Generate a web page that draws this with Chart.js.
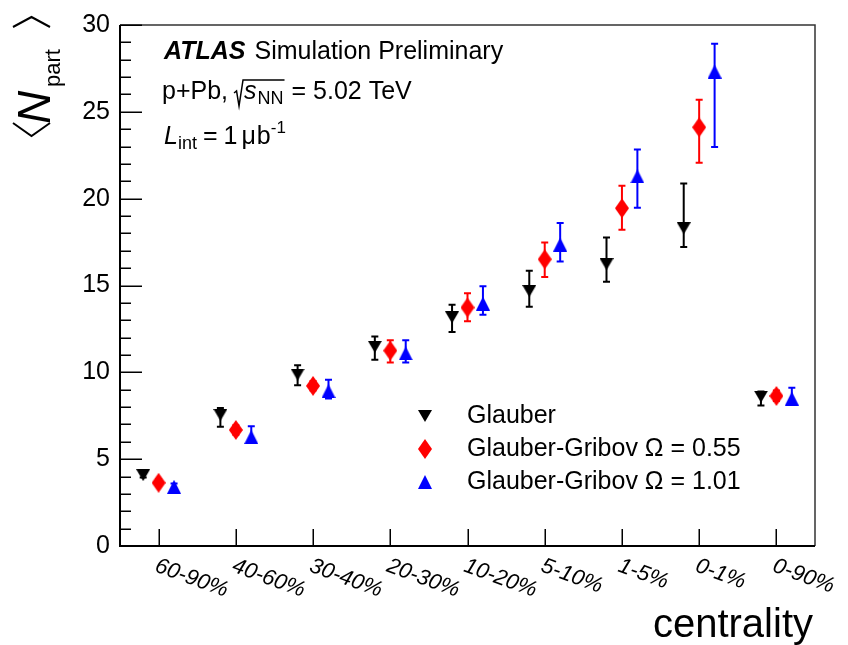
<!DOCTYPE html>
<html>
<head>
<meta charset="utf-8">
<script src="https://cdn.jsdelivr.net/npm/chart.js@4.4.0/dist/chart.umd.min.js"></script>
<style>
  html, body { margin: 0; padding: 0; background: #fff; }
  #chart { display: block; }
</style>
</head>
<body>
<canvas id="chart" width="848" height="645"></canvas>
<script>
// centrality bins on the x axis
const categories = ['60-90%', '40-60%', '30-40%', '20-30%', '10-20%', '5-10%', '1-5%', '0-1%', '0-90%'];

// <Npart> per bin, with lower / upper ends of the uncertainty band
const glauber   = [4.08, 7.55, 9.87, 11.47, 13.17, 14.68, 16.23, 18.30, 8.60];
const glauberLo = [3.95, 6.86, 9.25, 10.72, 12.32, 13.77, 15.21, 17.22, 8.09];
const glauberHi = [4.20, 7.94, 10.41, 12.07, 13.89, 15.85, 17.76, 20.87, 8.90];

const gg055   = [3.64, 6.68, 9.22, 11.25, 13.73, 16.51, 19.45, 24.11, 8.64];
const gg055Lo = [3.45, 6.40, 8.95, 10.57, 12.94, 15.49, 18.21, 22.07, 8.35];
const gg055Hi = [3.85, 6.95, 9.50, 11.85, 14.55, 17.47, 20.75, 25.70, 8.95];

const gg101   = [3.41, 6.28, 8.92, 11.09, 13.96, 17.36, 21.28, 27.32, 8.49];
const gg101Lo = [3.20, 6.00, 8.49, 10.57, 13.32, 16.38, 19.47, 22.98, 8.20];
const gg101Hi = [3.60, 6.90, 9.58, 11.85, 14.96, 18.60, 22.83, 28.92, 9.11];

const yTicks = [0, 5, 10, 15, 20, 25, 30];

const FONT = '"Liberation Sans", Arial, Helvetica, sans-serif';

// ROOT-like markers drawn once into small canvases
function makeMarker(kind, color) {
  const c = document.createElement('canvas');
  let w = 14, h = 14;
  if (kind === 'down') h = 12;
  if (kind === 'diamond') h = 20;
  c.width = w; c.height = h;
  const g = c.getContext('2d');
  g.fillStyle = color;
  g.beginPath();
  if (kind === 'down') { g.moveTo(0, 0); g.lineTo(w, 0); g.lineTo(w / 2, h); }
  else if (kind === 'up') { g.moveTo(w / 2, 0); g.lineTo(w, h); g.lineTo(0, h); }
  else { g.moveTo(w / 2, 0); g.lineTo(w, h / 2); g.lineTo(w / 2, h); g.lineTo(0, h / 2); }
  g.closePath();
  g.fill();
  return c;
}

const series = [
  { label: 'Glauber', vals: glauber, lo: glauberLo, hi: glauberHi, color: '#000000', marker: makeMarker('down', '#000000'), shift: -0.2 },
  { label: 'Glauber-Gribov \u03A9 = 0.55', vals: gg055, lo: gg055Lo, hi: gg055Hi, color: '#ff0000', marker: makeMarker('diamond', '#ff0000'), shift: 0 },
  { label: 'Glauber-Gribov \u03A9 = 1.01', vals: gg101, lo: gg101Lo, hi: gg101Hi, color: '#0000ff', marker: makeMarker('up', '#0000ff'), shift: 0.2 }
];

// vertical error bars with small caps, under the markers
const errorBars = {
  id: 'errorBars',
  beforeDatasetsDraw(chart) {
    const { ctx, scales: { x, y } } = chart;
    ctx.save();
    ctx.lineWidth = 2;
    series.forEach(s => {
      ctx.strokeStyle = s.color;
      s.vals.forEach((v, i) => {
        const px = x.getPixelForValue(i + s.shift);
        const yl = y.getPixelForValue(s.lo[i]);
        const yh = y.getPixelForValue(s.hi[i]);
        ctx.beginPath();
        ctx.moveTo(px, yl); ctx.lineTo(px, yh);
        ctx.moveTo(px - 3.5, yl); ctx.lineTo(px + 3.5, yl);
        ctx.moveTo(px - 3.5, yh); ctx.lineTo(px + 3.5, yh);
        ctx.stroke();
      });
    });
    ctx.restore();
  }
};

// frame, inside ticks, rotated bin labels, titles, legend and ATLAS text
const decorations = {
  id: 'decorations',
  afterDraw(chart) {
    const { ctx, chartArea: a, scales: { x, y } } = chart;
    ctx.save();

    // frame
    ctx.strokeStyle = '#333';
    ctx.lineWidth = 1.5;
    ctx.beginPath();
    ctx.moveTo(a.left, a.top); ctx.lineTo(a.right, a.top); ctx.lineTo(a.right, a.bottom);
    ctx.stroke();
    ctx.strokeStyle = '#000';
    ctx.lineWidth = 2;
    ctx.beginPath();
    ctx.moveTo(a.left, a.top); ctx.lineTo(a.left, a.bottom); ctx.lineTo(a.right, a.bottom);
    ctx.stroke();

    // y ticks: major every 5, minor every 1
    ctx.lineWidth = 1.5;
    ctx.beginPath();
    for (let v = 0; v <= 30; v++) {
      const py = Math.round(y.getPixelForValue(v)) + 0.25;
      const len = v % 5 === 0 ? 22 : 11;
      ctx.moveTo(a.left, py); ctx.lineTo(a.left + len, py);
    }
    // x ticks at bin centres
    categories.forEach((c, i) => {
      const px = Math.round(x.getPixelForValue(i)) + 0.25;
      ctx.moveTo(px, a.bottom); ctx.lineTo(px, a.bottom - 17);
    });
    ctx.stroke();

    // bin labels, turned clockwise
    ctx.fillStyle = '#000';
    ctx.font = 'italic 22px ' + FONT;
    ctx.textBaseline = 'top';
    ctx.textAlign = 'left';
    categories.forEach((c, i) => {
      const px = x.getPixelForValue(i);
      ctx.save();
      ctx.translate(px + 1, a.bottom + 9);
      ctx.rotate(20 * Math.PI / 180);
      ctx.fillText(c, 0, 0);
      ctx.restore();
    });

    // x title
    ctx.font = '40px ' + FONT;
    ctx.textAlign = 'right';
    ctx.textBaseline = 'alphabetic';
    ctx.fillText('centrality', 813, 637);

    // y title <N_part>, read upwards
    ctx.save();
    ctx.translate(50, 137);
    ctx.rotate(-Math.PI / 2);
    ctx.textAlign = 'left';
    ctx.font = 'italic 46px ' + FONT;
    ctx.fillText('N', 13, 0);
    ctx.font = '22px ' + FONT;
    ctx.fillText('part', 50, 10);
    ctx.lineWidth = 2;
    ctx.beginPath();
    ctx.moveTo(14, -37); ctx.lineTo(1, -18.5); ctx.lineTo(14, 0);
    ctx.moveTo(110, -37); ctx.lineTo(120, -18.5); ctx.lineTo(110, 0);
    ctx.stroke();
    ctx.restore();

    // ATLAS label block
    ctx.textAlign = 'left';
    let cx = 164;
    ctx.font = 'bold italic 25px ' + FONT;
    ctx.fillText('ATLAS', cx, 59);
    cx += ctx.measureText('ATLAS').width + 9;
    ctx.font = '25px ' + FONT;
    ctx.fillText('Simulation Preliminary', cx, 59);

    const b2 = 99;
    cx = 162;
    ctx.font = '25px ' + FONT;
    ctx.fillText('p+Pb,', cx, b2);
    cx += ctx.measureText('p+Pb,').width + 6;
    const sqStart = cx;
    cx += 10;
    ctx.font = 'italic 25px ' + FONT;
    ctx.fillText('s', cx, b2);
    cx += ctx.measureText('s').width + 1;
    ctx.font = '18px ' + FONT;
    ctx.fillText('NN', cx, b2 + 5);
    cx += ctx.measureText('NN').width + 1;
    ctx.lineWidth = 1.5;
    ctx.beginPath();
    ctx.moveTo(sqStart, b2 - 6);
    ctx.lineTo(sqStart + 2.5, b2 - 8);
    ctx.lineTo(sqStart + 5, b2 + 7);
    ctx.lineTo(sqStart + 9, b2 - 19);
    ctx.lineTo(cx, b2 - 19);
    ctx.stroke();
    ctx.font = '25px ' + FONT;
    ctx.fillText('= 5.02 TeV', cx + 7, b2);

    const b3 = 144;
    cx = 164;
    ctx.font = 'italic 25px ' + FONT;
    ctx.fillText('L', cx, b3);
    cx += ctx.measureText('L').width;
    ctx.font = '18px ' + FONT;
    ctx.fillText('int', cx, b3 + 5);
    cx += ctx.measureText('int').width + 6;
    ctx.font = '25px ' + FONT;
    ctx.fillText('=', cx, b3);
    cx += ctx.measureText('=').width + 6;
    ctx.fillText('1', cx, b3);
    cx += ctx.measureText('1').width + 4;
    ctx.fillText('\u03BC', cx, b3);
    cx += ctx.measureText('\u03BC').width + 1;
    ctx.fillText('b', cx, b3);
    cx += ctx.measureText('b').width;
    ctx.font = '17px ' + FONT;
    ctx.fillText('-1', cx, b3 - 11);

    // legend
    const rows = [416, 449, 482];
    ctx.font = '25px ' + FONT;
    ctx.textBaseline = 'middle';
    series.forEach((s, k) => {
      const m = s.marker;
      ctx.drawImage(m, 425 - m.width / 2, rows[k] - m.height / 2);
      ctx.fillText(s.label, 467, rows[k]);
    });

    ctx.restore();
  }
};

new Chart(document.getElementById('chart'), {
  type: 'scatter',
  data: {
    datasets: series.map(s => ({
      label: s.label,
      data: s.vals.map((v, i) => ({ x: i + s.shift, y: v })),
      pointStyle: s.marker,
      backgroundColor: s.color,
      borderColor: s.color,
      showLine: false
    }))
  },
  options: {
    responsive: false,
    animation: false,
    devicePixelRatio: 1,
    layout: { padding: { left: 0, top: 16, right: 33, bottom: 0 } },
    plugins: { legend: { display: false }, tooltip: { enabled: false } },
    scales: {
      x: {
        type: 'linear',
        min: -0.5,
        max: 8.5,
        grid: { display: false, drawTicks: false },
        border: { display: false },
        ticks: { display: false },
        afterFit(s) { s.height = 99; }
      },
      y: {
        min: 0,
        max: 30,
        grid: { display: false, drawTicks: false },
        border: { display: false },
        afterBuildTicks(s) { s.ticks = yTicks.map(v => ({ value: v })); },
        ticks: {
          color: '#000',
          padding: 10,
          font: { family: FONT, size: 25 }
        },
        afterFit(s) { s.width = 120; }
      }
    }
  },
  plugins: [errorBars, decorations]
});
</script>
</body>
</html>
